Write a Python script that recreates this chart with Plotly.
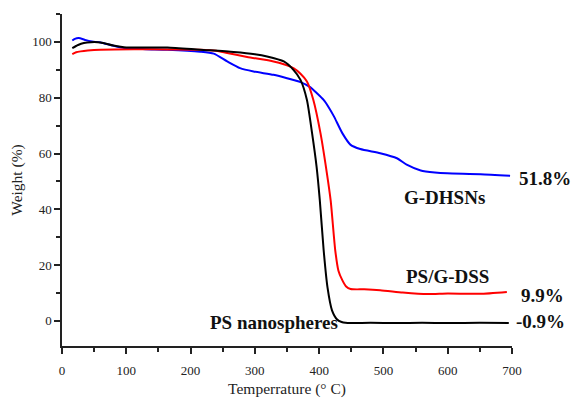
import plotly.graph_objects as go

# PS nanospheres (black)
ps_x = [16, 25, 34, 45, 60, 80, 100, 130, 164, 215, 267, 300, 319, 345, 360, 371, 381, 389, 396, 401, 407, 413, 420, 428, 435, 441, 450, 480, 520, 560, 600, 650, 695]
ps_y = [97.8, 98.9, 99.6, 99.9, 99.8, 98.7, 98.0, 98.0, 98.0, 97.2, 96.4, 95.6, 94.8, 93.0, 90.0, 86.4, 79.2, 67.3, 55.3, 43.3, 25.4, 12.0, 3.8, 0.5, -0.4, -0.7, -0.8, -0.7, -0.8, -0.7, -0.8, -0.7, -0.8]

# PS/G-DSS (red)
dss_x = [16, 22, 29, 40, 60, 112, 164, 215, 240, 257, 288, 329, 345, 360, 371, 381, 391, 402, 412, 418, 425, 430, 436, 442, 449, 470, 495, 530, 568, 600, 650, 692]
dss_y = [95.6, 96.3, 96.6, 96.9, 97.2, 97.4, 97.3, 97.2, 96.8, 96.0, 94.6, 93.0, 92.0, 90.6, 88.6, 85.8, 79.2, 67.4, 53.0, 43.0, 25.4, 18.0, 14.6, 12.3, 11.4, 11.3, 11.0, 10.2, 9.6, 9.8, 9.7, 10.4]

# G-DHSNs (blue)
gd_x = [16, 20, 26, 35, 44, 60, 80, 101, 130, 164, 215, 236, 257, 277, 298, 329, 350, 371, 386, 397, 407, 415, 423, 436, 449, 464, 495, 521, 537, 558, 580, 599, 651, 697]
gd_y = [100.5, 101.1, 101.4, 100.8, 100.2, 99.8, 98.6, 97.7, 97.4, 97.2, 96.5, 95.8, 93.0, 90.6, 89.4, 88.2, 87.0, 85.6, 83.8, 81.5, 79.2, 76.5, 73.3, 67.3, 63.1, 61.6, 60.1, 58.3, 55.9, 53.9, 53.2, 52.9, 52.6, 52.0]

# annotations: (text, x, y) in data units
labels = [("G-DHSNs", 595, 44.3), ("PS/G-DSS", 600, 16.0), ("PS nanospheres", 330, -0.6),
          ("51.8%", 752, 51.2), ("9.9%", 748, 9.1), ("-0.9%", 744, -0.2)]

x_ticks = [0, 100, 200, 300, 400, 500, 600, 700]
y_ticks = [0, 20, 40, 60, 80, 100]
X_RANGE = [0, 700]
Y_RANGE = [-9, 110]

FONT = "Liberation Serif, Times New Roman, serif"
AX = "#222222"

fig = go.Figure()
for xs, ys, col in [(gd_x, gd_y, "#0000ff"), (dss_x, dss_y, "#ff0000"), (ps_x, ps_y, "#000000")]:
    fig.add_trace(go.Scatter(x=xs, y=ys, mode="lines",
                             line=dict(color=col, width=2, shape="spline", smoothing=0.6),
                             showlegend=False, hoverinfo="skip"))

for t, x, y in labels:
    fig.add_annotation(x=(x - X_RANGE[0]) / (X_RANGE[1] - X_RANGE[0]), y=y, text="<b>%s</b>" % t,
                       showarrow=False, xref="paper", yref="y",
                       xanchor="center", yanchor="middle",
                       font=dict(family=FONT, size=19, color="#111111"))

fig.update_layout(
    width=571, height=398,
    margin=dict(l=62, r=59, t=14, b=52),
    plot_bgcolor="white", paper_bgcolor="white",
    font=dict(family=FONT, size=13, color=AX),
)
fig.update_xaxes(range=X_RANGE, tickvals=x_ticks, showgrid=False, zeroline=False, automargin=False,
                 showline=True, linecolor=AX, linewidth=1.5,
                 ticks="outside", ticklen=6, tickwidth=1.5, tickcolor=AX,
                 ticklabelstandoff=6,
                 minor=dict(dtick=50, ticks="outside", ticklen=4, tickwidth=1.5, tickcolor=AX, showgrid=False),
                 title=dict(text="Temperrature (° C)", font=dict(family=FONT, size=15.5, color=AX), standoff=8),
                 tickfont=dict(family=FONT, size=13, color=AX))
fig.update_yaxes(range=Y_RANGE, tickvals=y_ticks, showgrid=False, zeroline=False, automargin=False,
                 showline=True, linecolor=AX, linewidth=1.5,
                 ticks="outside", ticklen=6, tickwidth=1.5, tickcolor=AX,
                 minor=dict(dtick=10, ticks="outside", ticklen=4, tickwidth=1.5, tickcolor=AX, showgrid=False),
                 title=dict(text="Weight (%)", font=dict(family=FONT, size=15.5, color=AX), standoff=6),
                 tickfont=dict(family=FONT, size=13, color=AX))

fig.write_html("out.html", config={"displayModeBar": False},
               post_script="document.body.style.margin='0';")
